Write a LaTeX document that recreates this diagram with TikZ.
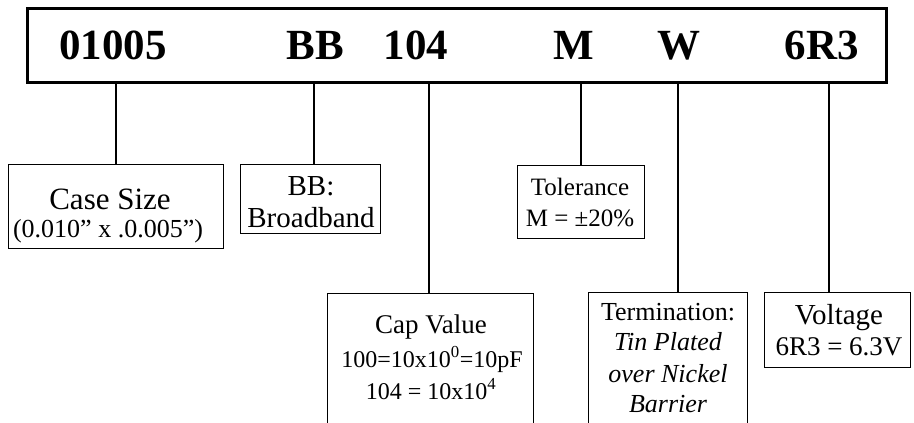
\documentclass[tikz,border=0pt]{standalone}
\usepackage{fontspec}
\setmainfont{Liberation Serif}
\begin{document}
\begin{tikzpicture}[x=1pt,y=-1pt,
  box/.style={draw,line width=1pt,anchor=north west,inner sep=0pt},
  conn/.style={line width=2pt},
  code/.style={anchor=base,font=\fontsize{43}{43}\selectfont\bfseries,inner sep=0pt},
  lbl/.style={anchor=base,inner sep=0pt}]
\useasboundingbox (0,0) rectangle (914,423);
% top box
\node[draw,line width=3pt,anchor=north west,minimum width=859pt,minimum height=74pt,inner sep=0pt] (top) at (26,7) {};
\node[code] (c1) at (113,59) {01005};
\node[code] (c2) at (315,59) {BB};
\node[code] (c3) at (416,59) {104};
\node[code] (c4) at (574,59) {M};
\node[code] (c5) at (679,59) {W};
\node[code] (c6) at (822,59) {6R3};
% boxes
\node[box,minimum width=215pt,minimum height=84pt] (case) at (8,164) {};
\node[box,minimum width=140pt,minimum height=69pt] (bb) at (240,164) {};
\node[box,minimum width=206pt,minimum height=140pt] (cap) at (327,293) {};
\node[box,minimum width=127pt,minimum height=73pt] (tol) at (517,165) {};
\node[box,minimum width=159pt,minimum height=140pt] (term) at (588,292) {};
\node[box,minimum width=146pt,minimum height=75pt] (volt) at (764,292) {};
% connectors
\draw[conn] (case.north) -- (case.north |- top.south);
\draw[conn] ([xshift=3pt]bb.north) -- ([xshift=3pt]bb.north |- top.south);
\draw[conn] ([xshift=-2pt]cap.north) -- ([xshift=-2pt]cap.north |- top.south);
\draw[conn] (tol.north) -- (tol.north |- top.south);
\draw[conn] ([xshift=9.5pt]term.north) -- ([xshift=9.5pt]term.north |- top.south);
\draw[conn] ([xshift=-9pt]volt.north) -- ([xshift=-9pt]volt.north |- top.south);
% labels
\node[lbl,font=\fontsize{31}{31}\selectfont] (t1a) at (110,209) {Case Size};
\node[lbl,font=\fontsize{26}{26}\selectfont] (t1b) at (108,237) {(0.010” x .0.005”)};
\node[lbl,font=\fontsize{29}{29}\selectfont] (t2a) at (311,195) {BB:};
\node[lbl,font=\fontsize{29}{29}\selectfont] (t2b) at (311,227) {Broadband};
\node[lbl,font=\fontsize{27}{27}\selectfont] (t3a) at (431,333) {Cap Value};
\node[lbl,font=\fontsize{24}{24}\selectfont] (t3b) at (432,367) {100=10x10\textsuperscript{0}=10pF};
\node[lbl,font=\fontsize{24}{24}\selectfont] (t3c) at (431,399) {104 = 10x10\textsuperscript{4}};
\node[lbl,font=\fontsize{25}{25}\selectfont] (t4a) at (580,195) {Tolerance};
\node[lbl,font=\fontsize{25}{25}\selectfont] (t4b) at (580,226) {M = ±20\%};
\node[lbl,font=\fontsize{26}{26}\selectfont] (t5a) at (668,320) {Termination:};
\node[lbl,font=\fontsize{26}{26}\selectfont\itshape] (t5b) at (668,350) {Tin Plated};
\node[lbl,font=\fontsize{26}{26}\selectfont\itshape] (t5c) at (668,382) {over Nickel};
\node[lbl,font=\fontsize{26}{26}\selectfont\itshape] (t5d) at (668,412) {Barrier};
\node[lbl,font=\fontsize{29}{29}\selectfont] (t6a) at (839,324) {Voltage};
\node[lbl,font=\fontsize{27}{27}\selectfont] (t6b) at (839,355) {6R3 = 6.3V};
\end{tikzpicture}
\end{document}
